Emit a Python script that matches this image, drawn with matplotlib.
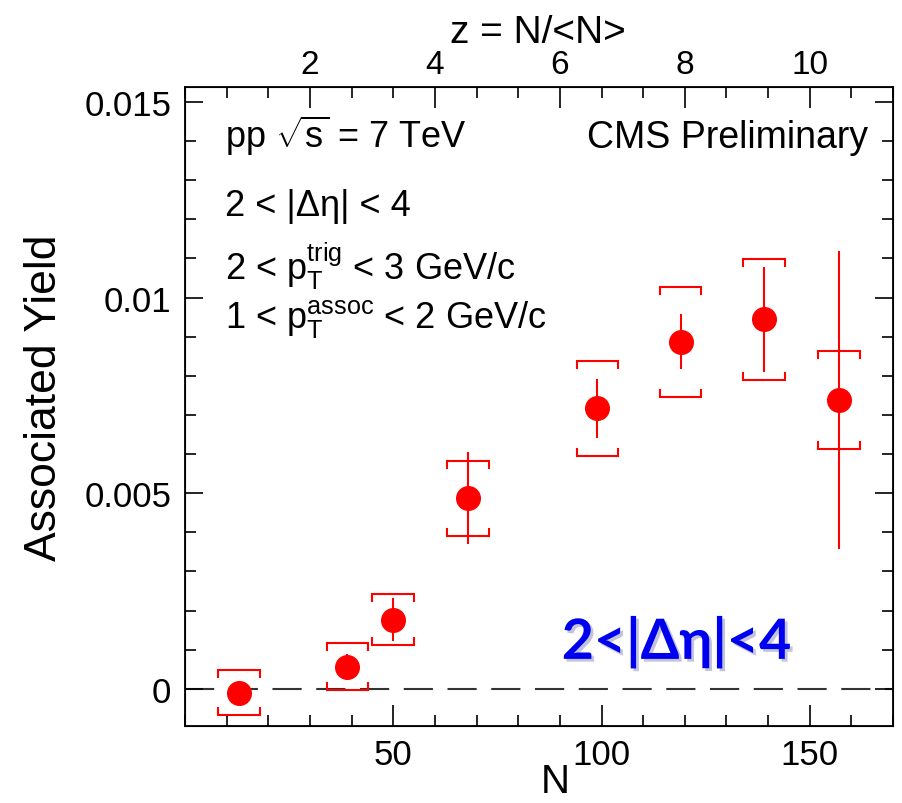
import matplotlib
matplotlib.use("Agg")
import matplotlib.pyplot as plt
import matplotlib.patheffects as pe
from matplotlib.ticker import MultipleLocator

plt.rcParams['font.family'] = ['Liberation Sans', 'DejaVu Sans']
plt.rcParams['mathtext.fontset'] = 'custom'
plt.rcParams['mathtext.rm'] = 'Liberation Sans'
plt.rcParams['mathtext.it'] = 'Liberation Sans:italic'

# data
n_vals = [13, 39, 50, 68, 99, 119, 139, 157]
yield_vals = [-0.0001, 0.00056, 0.00177, 0.00487, 0.00717, 0.00887, 0.00944, 0.00738]
stat_err = [0.0003, 0.00034, 0.00055, 0.00118, 0.00076, 0.0007, 0.00135, 0.0038]
sys_err = [0.00057, 0.0006, 0.00065, 0.00096, 0.00121, 0.00141, 0.00155, 0.00125]
n_mean = 15.0

red = '#ff0000'

fig = plt.figure(figsize=(9.03, 8.04), dpi=100)
ax = fig.add_axes([0.2049, 0.0958, 0.7841, 0.7947])
ax.set_xlim(0, 170)
ax.set_ylim(-0.00095, 0.01538)

# zero line
ax.axhline(0, color='#333333', lw=1.5, dashes=(14, 7), zorder=1)

# systematic brackets
hw = 5.0
tick = 0.00018
for x, y, s in zip(n_vals, yield_vals, sys_err):
    ax.plot([x - hw, x - hw, x + hw, x + hw], [y + s - tick, y + s, y + s, y + s - tick],
            color=red, lw=1.5, solid_joinstyle='miter')
    ax.plot([x - hw, x - hw, x + hw, x + hw], [y - s + tick, y - s, y - s, y - s + tick],
            color=red, lw=1.5, solid_joinstyle='miter')

# stat errors + markers
ax.errorbar(n_vals, yield_vals, yerr=stat_err, fmt='o', color=red, ms=17,
            elinewidth=1.5, capsize=0, zorder=3)

# ticks
ax.set_xticks([50, 100, 150])
ax.xaxis.set_minor_locator(MultipleLocator(10))
ax.yaxis.set_minor_locator(MultipleLocator(0.001))
ax.set_yticks([0, 0.005, 0.01, 0.015])
ax.set_yticklabels(['0', '0.005', '0.01', '0.015'])
ax.tick_params(axis='both', which='both', direction='in', width=1.2, labelsize=25)
ax.tick_params(axis='x', which='major', length=15, pad=9, top=False)
ax.tick_params(axis='x', which='minor', length=8, top=False)
ax.tick_params(axis='y', which='major', length=13, pad=10, right=True)
ax.tick_params(axis='y', which='minor', length=8, right=True)
for sp in ax.spines.values():
    sp.set_linewidth(1.3)

ax.set_xlabel('N', fontsize=29)
ax.xaxis.set_label_coords(0.523, -0.056)
ax.set_ylabel('Associated Yield', fontsize=32)
ax.yaxis.set_label_coords(-0.17, 0.516)

# top axis z = N/<N>
ax2 = ax.twiny()
ax2.set_xlim(0, 170 / n_mean)
ax2.set_xticks([2, 4, 6, 8, 10])
ax2.xaxis.set_minor_locator(MultipleLocator(2 / 3))
ax2.tick_params(axis='x', which='both', direction='in', width=1.2, labelsize=24)
ax2.tick_params(axis='x', which='major', length=15, pad=5)
ax2.tick_params(axis='x', which='minor', length=8)
ax2.set_xlabel('z = N/<N>', fontsize=28)
ax2.xaxis.set_label_coords(0.499, 1.070)

# annotations
txt = dict(transform=ax.transAxes, fontsize=26, va='baseline', ha='left')
ax.text(0.057, 0.906, r'pp $\sqrt{\mathregular{s}}$ = 7 TeV', **txt)
ax.text(0.965, 0.906, 'CMS Preliminary', transform=ax.transAxes, fontsize=27,
        va='baseline', ha='right')
ax.text(0.057, 0.800, '2 < |\u0394\u03b7| < 4', **txt)
ax.text(0.057, 0.700, r'2 < $\mathregular{p_T^{trig}}$ < 3 GeV/c', **txt)
ax.text(0.057, 0.625, r'1 < $\mathregular{p_T^{assoc}}$ < 2 GeV/c', **txt)

ax.text(0.532, 0.105, '2<|\u0394\u03b7|<4', transform=ax.transAxes, fontsize=40,
        fontweight='bold', color='#0000f0', ha='left', va='baseline',
        family=['Lato', 'DejaVu Sans'],
        path_effects=[pe.withSimplePatchShadow(offset=(2, -2), shadow_rgbFace='#8888bb', alpha=0.5)])

fig.savefig('out.png', dpi=100)
